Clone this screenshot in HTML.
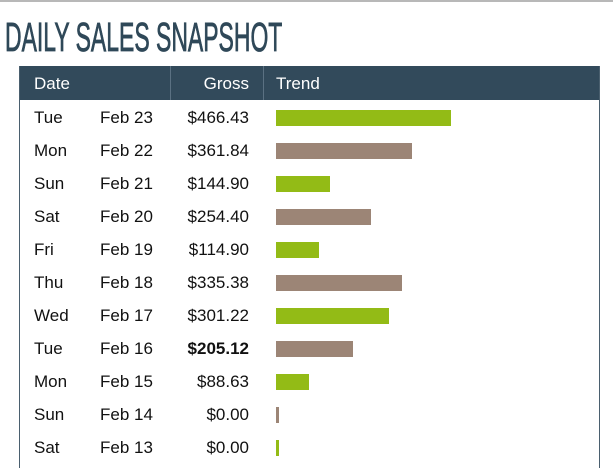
<!DOCTYPE html>
<html style="overflow:hidden;height:468px"><head><meta charset="utf-8"><style>
body{margin:0;width:613px;height:468px;overflow:hidden;background:#fff;font-family:"Liberation Sans",sans-serif;position:relative}
#topline{position:absolute;left:0;top:0;width:613px;height:2px;background:#b8b8b8}
#title{position:absolute;left:5px;top:14px;font-size:41px;color:#2f4858;transform:scaleX(0.56);transform-origin:left top;white-space:nowrap;-webkit-text-stroke:0.8px #2f4858}
#tbl{position:absolute;left:19px;top:66px;width:579px;height:402px;border-left:1px solid #4a5f6e;border-right:1px solid #4a5f6e}
#hdr{position:absolute;left:0;top:0;width:579px;height:34px;background:#324a5b;color:#fff;font-size:17px}
#hdr div{position:absolute;top:8px}
.sep{position:absolute;top:0;width:1px;height:34px;background:#5b7182}
.cell{position:absolute;font-size:17px;color:#111;line-height:20px}
</style></head><body>
<div id="topline"></div>
<div id="title">DAILY SALES SNAPSHOT</div>
<div id="tbl">
<div id="hdr">
<div style="left:14px">Date</div>
<div style="right:350px">Gross</div>
<div style="left:256px">Trend</div>
<span class="sep" style="left:150px"></span>
<span class="sep" style="left:243px"></span>
</div>
<div id="rows"></div>
</div>
<script>
const days=["Tue","Mon","Sun","Sat","Fri","Thu","Wed","Tue","Mon","Sun","Sat"];
const dates=["Feb 23","Feb 22","Feb 21","Feb 20","Feb 19","Feb 18","Feb 17","Feb 16","Feb 15","Feb 14","Feb 13"];
const gross=[466.43,361.84,144.90,254.40,114.90,335.38,301.22,205.12,88.63,0,0];
const boldIndex=7;
const rows=document.getElementById('rows');
const maxV=466.43, maxW=175;
function xw(v){return Math.max(3,v/maxV*maxW);}
for(let i=0;i<days.length;i++){
  const cy=52+33*i;
  const d=document.createElement('div');d.className='cell';d.style.left='14px';d.style.top=(cy-10)+'px';d.textContent=days[i];
  
  
  rows.appendChild(d);
  const t=document.createElement('div');t.className='cell';t.style.left='80px';t.style.top=(cy-10)+'px';t.textContent=dates[i];
  
  
  rows.appendChild(t);
  const g=document.createElement('div');g.className='cell';g.style.right='350px';g.style.top=(cy-10)+'px';g.textContent='$'+gross[i].toFixed(2);
  if(i===boldIndex)g.style.fontWeight='bold';
  
  
  rows.appendChild(g);
  const b=document.createElement('div');b.style.position='absolute';b.style.left='256px';b.style.top=(cy-8)+'px';b.style.height='16px';
  b.style.width=xw(gross[i])+'px';b.style.background=i%2===0?'#93bb16':'#9c8576';
  
  
  rows.appendChild(b);
}
</script>
</body></html>
